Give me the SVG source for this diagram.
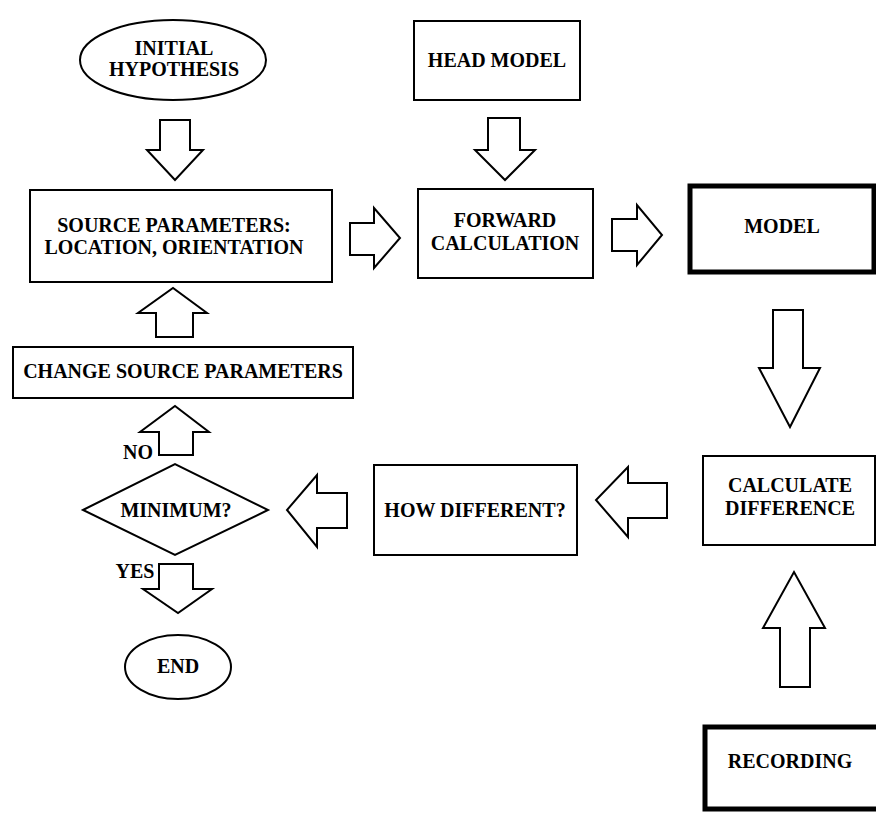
<svg xmlns="http://www.w3.org/2000/svg" width="876" height="814" viewBox="0 0 876 814">
<style>
.n{fill:#fff;stroke:#000;stroke-width:2}
.t{fill:#fff;stroke:#000;stroke-width:5}
.a{fill:#fff;stroke:#000;stroke-width:2;stroke-linejoin:miter}
text{font-family:"Liberation Serif","Times New Roman",serif;font-weight:bold;font-size:20px;text-anchor:middle;fill:#000}
</style>
<rect width="876" height="814" fill="#fff"/>
<g id="connectors">
<polygon class="a" points="160,120 190,120 190,150 203,150 175,180 147,150 160,150"/>
<polygon class="a" points="488,118 520,118 520,150 535,150 505,180 475,150 488,150"/>
<polygon class="a" points="350,223 374,223 374,208 400,238 374,268 374,255 350,255"/>
<polygon class="a" points="612,219 637,219 637,205 662,235 637,265 637,251 612,251"/>
<polygon class="a" points="773,310 803,310 803,368 820,368 790,427 759,368 773,368"/>
<polygon class="a" points="667,483 628,483 628,467 596,500 628,537 628,518 667,518"/>
<polygon class="a" points="780,687 810,687 810,628 825,628 794,572 763,628 780,628"/>
<polygon class="a" points="347,493 317,493 317,475 287,510 317,547 317,528 347,528"/>
<polygon class="a" points="156,337 193,337 193,313 207,313 173,288 138,313 156,313"/>
<polygon class="a" points="159,455 193,455 193,432 209,432 175,406 140,432 159,432"/>
<polygon class="a" points="159,564 193,564 193,589 212,589 178,613 143,589 159,589"/>
</g>
<g id="initial">
<ellipse class="n" cx="173" cy="60" rx="93" ry="40"/>
<text x="174" y="55">INITIAL</text>
<text x="174" y="76">HYPOTHESIS</text>
</g>
<g id="source">
<rect class="n" x="30" y="190" width="302" height="92"/>
<text x="174" y="232">SOURCE PARAMETERS:</text>
<text x="174" y="254">LOCATION, ORIENTATION</text>
</g>
<g id="head">
<rect class="n" x="414" y="21" width="166" height="79"/>
<text x="497" y="67">HEAD MODEL</text>
</g>
<g id="forward">
<rect class="n" x="418" y="189" width="175" height="89"/>
<text x="505" y="227">FORWARD</text>
<text x="505" y="250">CALCULATION</text>
</g>
<g id="model">
<rect class="t" x="690" y="186" width="184" height="86"/>
<text x="782" y="233">MODEL</text>
</g>
<g id="change">
<rect class="n" x="13" y="347" width="340" height="51"/>
<text x="183" y="378">CHANGE SOURCE PARAMETERS</text>
</g>
<g id="no"><text x="138" y="459">NO</text></g>
<g id="minimum">
<polygon class="n" points="83,510 175,464 268,510 175,555"/>
<text x="176" y="517">MINIMUM?</text>
</g>
<g id="yes"><text x="135" y="578">YES</text></g>
<g id="end">
<ellipse class="n" cx="178" cy="667" rx="53" ry="32"/>
<text x="178" y="673">END</text>
</g>
<g id="howdiff">
<rect class="n" x="374" y="465" width="203" height="90"/>
<text x="475" y="517">HOW DIFFERENT?</text>
</g>
<g id="calcdiff">
<rect class="n" x="703" y="456" width="172" height="89"/>
<text x="790" y="492">CALCULATE</text>
<text x="790" y="515">DIFFERENCE</text>
</g>
<g id="recording">
<rect class="t" x="705" y="727" width="175" height="82"/>
<text x="790" y="768">RECORDING</text>
</g>
</svg>
